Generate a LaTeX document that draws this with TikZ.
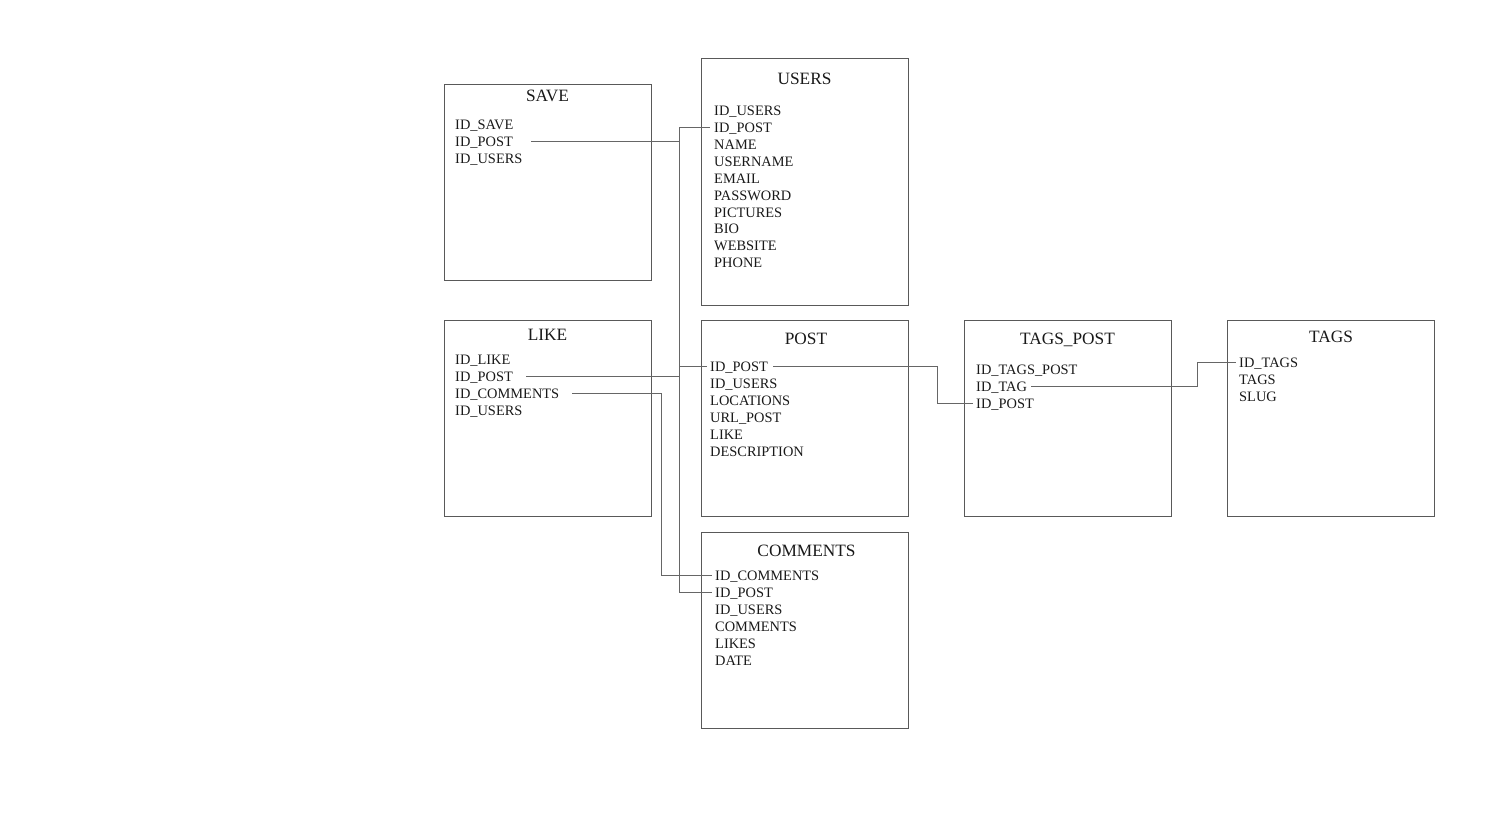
\documentclass[tikz,border=0pt]{standalone}
\usepackage{fontspec}
\setmainfont{Liberation Serif}
\begin{document}
\begin{tikzpicture}[x=1pt,y=-1pt,
  tbl/.style={draw=black!65,line width=0.9pt,rectangle,inner sep=0pt},
  ttl/.style={font=\fontsize{17.3}{17}\selectfont,text=black!90,inner sep=0pt,text height=12.6pt,text depth=0pt},
  fld/.style={font=\fontsize{14.4}{14}\selectfont,text=black!90,anchor=west,inner sep=0pt,text height=11pt,text depth=0pt},
  conn/.style={draw=black!60,line width=0.9pt}]
\useasboundingbox (0,0) rectangle (1502,827);
% tables
\node[tbl,minimum width=207pt,minimum height=196pt] (save) at (547.5,182) {};
\node[tbl,minimum width=207pt,minimum height=247pt] (users) at (804.5,181.5) {};
\node[tbl,minimum width=207pt,minimum height=196pt] (like) at (547.5,418) {};
\node[tbl,minimum width=207pt,minimum height=196pt] (post) at (804.5,418) {};
\node[tbl,minimum width=207pt,minimum height=196pt] (comments) at (804.5,630) {};
\node[tbl,minimum width=207pt,minimum height=196pt] (tagspost) at (1067.5,418) {};
\node[tbl,minimum width=207pt,minimum height=196pt] (tags) at (1330.5,418) {};
% titles
\node[ttl] (tsave) at (547.5,95) {SAVE};
\node[ttl] (tusers) at (804.5,78) {USERS};
\node[ttl] (tlike) at (547.5,334) {LIKE};
\node[ttl] (tpost) at (806,338) {POST};
\node[ttl] (tcomments) at (806.5,550) {COMMENTS};
\node[ttl] (ttagspost) at (1067.5,338) {TAGS\_POST};
\node[ttl] (ttags) at (1331,336) {TAGS};
% SAVE fields
\node[fld] (save1) at (455,124) {ID\_SAVE};
\node[fld] (save2) at (455,141) {ID\_POST};
\node[fld] (save3) at (455,158) {ID\_USERS};
% USERS fields
\node[fld] (users1) at (714,110) {ID\_USERS};
\node[fld] (users2) at (714,127) {ID\_POST};
\node[fld] (users3) at (714,144) {NAME};
\node[fld] (users4) at (714,161) {USERNAME};
\node[fld] (users5) at (714,178) {EMAIL};
\node[fld] (users6) at (714,195) {PASSWORD};
\node[fld] (users7) at (714,212) {PICTURES};
\node[fld] (users8) at (714,228) {BIO};
\node[fld] (users9) at (714,245) {WEBSITE};
\node[fld] (users10) at (714,262) {PHONE};
% LIKE fields
\node[fld] (like1) at (455,359) {ID\_LIKE};
\node[fld] (like2) at (455,376) {ID\_POST};
\node[fld] (like3) at (455,393) {ID\_COMMENTS};
\node[fld] (like4) at (455,410) {ID\_USERS};
% POST fields
\node[fld] (post1) at (710,366) {ID\_POST};
\node[fld] (post2) at (710,383) {ID\_USERS};
\node[fld] (post3) at (710,400) {LOCATIONS};
\node[fld] (post4) at (710,417) {URL\_POST};
\node[fld] (post5) at (710,434) {LIKE};
\node[fld] (post6) at (710,451) {DESCRIPTION};
% COMMENTS fields
\node[fld] (com1) at (715,575) {ID\_COMMENTS};
\node[fld] (com2) at (715,592) {ID\_POST};
\node[fld] (com3) at (715,609) {ID\_USERS};
\node[fld] (com4) at (715,626) {COMMENTS};
\node[fld] (com5) at (715,643) {LIKES};
\node[fld] (com6) at (715,660) {DATE};
% TAGS_POST fields
\node[fld] (tp1) at (976,369) {ID\_TAGS\_POST};
\node[fld] (tp2) at (976,386) {ID\_TAG};
\node[fld] (tp3) at (976,403) {ID\_POST};
% TAGS fields
\node[fld] (tg1) at (1239,362) {ID\_TAGS};
\node[fld] (tg2) at (1239,379) {TAGS};
\node[fld] (tg3) at (1239,396) {SLUG};
% routing coordinates
\coordinate (trunk) at (679,0);
\coordinate (cbend) at (661,0);
\coordinate (pbend) at (937,0);
\coordinate (tbend) at (1197,0);
% connectors
\draw[conn] ([xshift=-4pt]users2.west) -- (users2.west -| trunk) -- (com2.west -| trunk) -- ([xshift=-3pt]com2.west);
\draw[conn] ([xshift=76pt]save2.west) -- (save2.west -| trunk);
\draw[conn] ([xshift=71pt]like2.west) -- (like2.west -| trunk);
\draw[conn] ([xshift=-3pt]post1.west) -- (post1.west -| trunk);
\draw[conn] ([xshift=117pt]like3.west) -- (like3.west -| cbend) -- (com1.west -| cbend) -- ([xshift=-3pt]com1.west);
\draw[conn] ([xshift=63pt]post1.west) -- (post1.west -| pbend) -- (tp3.west -| pbend) -- ([xshift=-3pt]tp3.west);
\draw[conn] ([xshift=55pt]tp2.west) -- (tp2.west -| tbend) -- (tg1.west -| tbend) -- ([xshift=-3pt]tg1.west);
\end{tikzpicture}
\end{document}
